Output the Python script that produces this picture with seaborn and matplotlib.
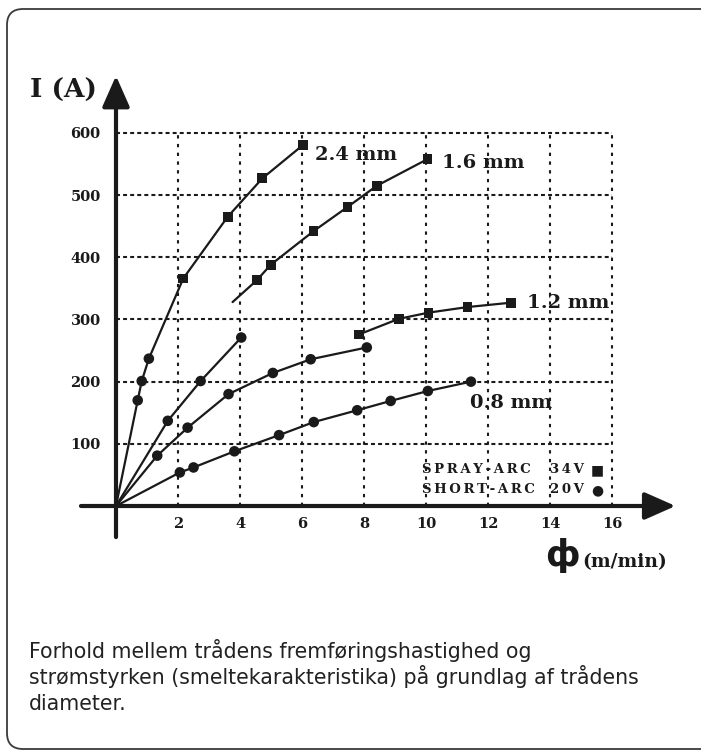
import matplotlib
matplotlib.use("Agg")
import matplotlib.pyplot as plt
import seaborn as sns
import pandas as pd
from matplotlib.path import Path
from matplotlib.patches import PathPatch

# ---------------- data (wire feed speed m/min, current A) ----------------
x_ticks = [2, 4, 6, 8, 10, 12, 14, 16]
y_ticks = [100, 200, 300, 400, 500, 600]

# 2.4 mm
s24_short_x = [0.70, 0.83, 1.06]
s24_short_y = [170, 201, 237]
s24_spray_x = [2.17, 3.60, 4.72, 6.04]
s24_spray_y = [366, 465, 527, 581]
# 1.6 mm
s16_short_x = [1.67, 2.73, 4.04]
s16_short_y = [137, 201, 271]
s16_spray_start = (3.76, 328)
s16_spray_x = [4.54, 4.99, 6.37, 7.47, 8.41, 10.05]
s16_spray_y = [363, 388, 442, 481, 515, 558]
# 1.2 mm
s12_short_x = [1.33, 2.31, 3.63, 5.06, 6.28, 8.09]
s12_short_y = [81, 126, 180, 214, 236, 255]
s12_spray_x = [7.84, 9.12, 10.08, 11.34, 12.73]
s12_spray_y = [276, 301, 311, 320, 327]
# 0.8 mm
s08_short_x = [2.06, 2.50, 3.82, 5.26, 6.38, 7.78, 8.86, 10.06, 11.45]
s08_short_y = [54, 62, 88, 114, 135, 154, 169, 185, 200]

wire_labels = ["2.4 mm", "1.6 mm", "1.2 mm", "0.8 mm"]
legend_rows = [("SPRAY-ARC", "34V", "■"), ("SHORT-ARC", "20V", "●")]
caption_lines = ["Forhold mellem trådens fremføringshastighed og",
                 "strømstyrken (smeltekarakteristika) på grundlag af trådens",
                 "diameter."]

# ---------------- figure ----------------
sns.set_theme(style="white")
plt.rcParams["font.family"] = ["DejaVu Serif", "DejaVu Sans"]

W, H = 701, 752
fig = plt.figure(figsize=(W / 100, H / 100), dpi=100)

x0px, xscale = 116.0, 31.0     # px of x=0, px per unit
y0px, yscale = 506.0, 0.6217   # px of y=0, px per A
left_px, right_px, top_px, bot_px = 60, 690, 60, 560
ax = fig.add_axes([left_px / W, 1 - bot_px / H, (right_px - left_px) / W, (bot_px - top_px) / H])
ax.set_xlim((left_px - x0px) / xscale, (right_px - x0px) / xscale)
ax.set_ylim((y0px - bot_px) / yscale, (y0px - top_px) / yscale)
ax.set_facecolor("none")

# grid (dashed, limited to the 0..16 x 0..600 area)
xmax_grid, ymax_grid = 16, 600
ax.hlines(y_ticks, 0, xmax_grid, colors="k", lw=1.5, linestyles=(0, (1.9, 1.5)), zorder=1)
ax.vlines(x_ticks, 0, ymax_grid, colors="k", lw=1.5, linestyles=(0, (1.6, 2.6)), zorder=1)

# curves
def line(xs, ys):
    d = pd.DataFrame({"x": xs, "y": ys})
    sns.lineplot(data=d, x="x", y="y", sort=False, color="k", lw=1.6, ax=ax, zorder=3,
                 estimator=None)

def marks(xs, ys, m, s):
    d = pd.DataFrame({"x": xs, "y": ys})
    sns.scatterplot(data=d, x="x", y="y", marker=m, s=s, color="k", edgecolor="none",
                    ax=ax, zorder=4, legend=False)

line([0] + s24_short_x + s24_spray_x, [0] + s24_short_y + s24_spray_y)
line([0] + s16_short_x, [0] + s16_short_y)
line([s16_spray_start[0]] + s16_spray_x, [s16_spray_start[1]] + s16_spray_y)
line([0] + s12_short_x, [0] + s12_short_y)
line(s12_spray_x, s12_spray_y)
line([0] + s08_short_x, [0] + s08_short_y)

circ_s, sq_s = 58, 50
for xs, ys in [(s24_short_x, s24_short_y), (s16_short_x, s16_short_y),
               (s12_short_x, s12_short_y), (s08_short_x, s08_short_y)]:
    marks(xs, ys, "o", circ_s)
for xs, ys in [(s24_spray_x, s24_spray_y), (s16_spray_x, s16_spray_y),
               (s12_spray_x, s12_spray_y)]:
    marks(xs, ys, "s", sq_s)

# axes arrows
arrow_kw = dict(arrowstyle="-|>,head_length=0.95,head_width=0.42", lw=3.0, color="k",
                mutation_scale=20, shrinkA=0, shrinkB=0)
ax.annotate("", xy=(18.05, 0), xytext=(-1.13, 0), arrowprops=arrow_kw, zorder=5,
            annotation_clip=False)
ax.annotate("", xy=(0, 692), xytext=(0, -50), arrowprops=arrow_kw, zorder=5,
            annotation_clip=False)

# ticks on the zero lines
for sp in ["top", "right"]:
    ax.spines[sp].set_visible(False)
for sp in ["left", "bottom"]:
    ax.spines[sp].set_position(("data", 0))
    ax.spines[sp].set_visible(False)
ax.set_xticks(x_ticks)
ax.set_yticks(y_ticks)
ax.set_xticklabels([str(v) for v in x_ticks])
ax.set_yticklabels([str(v) for v in y_ticks])
ax.tick_params(axis="both", length=0, labelsize=10.5, colors="#1a1a1a")
ax.tick_params(axis="x", pad=8)
ax.tick_params(axis="y", pad=11)
for t in ax.get_xticklabels() + ax.get_yticklabels():
    t.set_fontweight("bold")
ax.set_xlabel("")
ax.set_ylabel("")

# wire labels
lab_pos = [(6.42, 565), (10.5, 552), (13.25, 327), (11.42, 166)]
for txt, (lx, ly) in zip(wire_labels, lab_pos):
    ax.text(lx, ly, txt, fontsize=14, fontweight="bold", ha="left", va="center",
            color="#1a1a1a", zorder=6)

# axis titles
ax.text(-2.77, 669, "I (A)", fontsize=19, fontweight="bold", ha="left", va="center",
        color="#1a1a1a")
ax.text(13.85, -80, "ф", fontsize=25, fontweight="bold", ha="left", va="center",
        family=["DejaVu Sans"], color="#1a1a1a")
ax.text(15.05, -91, "(m/min)", fontsize=13.5, fontweight="bold", ha="left", va="center",
        color="#1a1a1a")

# arc legend
leg_y = [58, 26]
for (name, volt, sym), ly in zip(legend_rows, leg_y):
    ax.text(9.88, ly, "\u2009".join(name), fontsize=9.5, fontweight="bold", ha="left",
            va="center", color="#1a1a1a", zorder=6)
    ax.text(14.0, ly, "\u2009".join(volt), fontsize=9.5, fontweight="bold", ha="left",
            va="center", color="#1a1a1a", zorder=6)
    ax.text(15.32, ly, sym, fontsize=10, ha="left", va="center", family=["DejaVu Sans"],
            color="#1a1a1a", zorder=6)

# caption
cap_base = [658, 684, 710]
for txt, by in zip(caption_lines, cap_base):
    fig.text(29 / W, 1 - by / H, txt, fontsize=14.8, family=["DejaVu Sans"],
             ha="left", va="baseline", color="#222222")

# frame: open path (top, left, bottom edges, rounded left corners)
fl, ft, fb, r = 7.0, 9.0, 749.0, 16.0
xr = W + 10
pts = [(xr, ft), (fl + r, ft), (fl, ft), (fl, ft + r), (fl, fb - r), (fl, fb),
       (fl + r, fb), (xr, fb)]
codes = [Path.MOVETO, Path.LINETO, Path.CURVE3, Path.CURVE3, Path.LINETO, Path.CURVE3,
         Path.CURVE3, Path.LINETO]
pts_fig = [(px / W, 1 - py / H) for px, py in pts]
frame = PathPatch(Path(pts_fig, codes), transform=fig.transFigure, fill=False,
                  lw=1.3, ec="#3a3a3a")
fig.add_artist(frame)

fig.savefig("out.png", dpi=100)
